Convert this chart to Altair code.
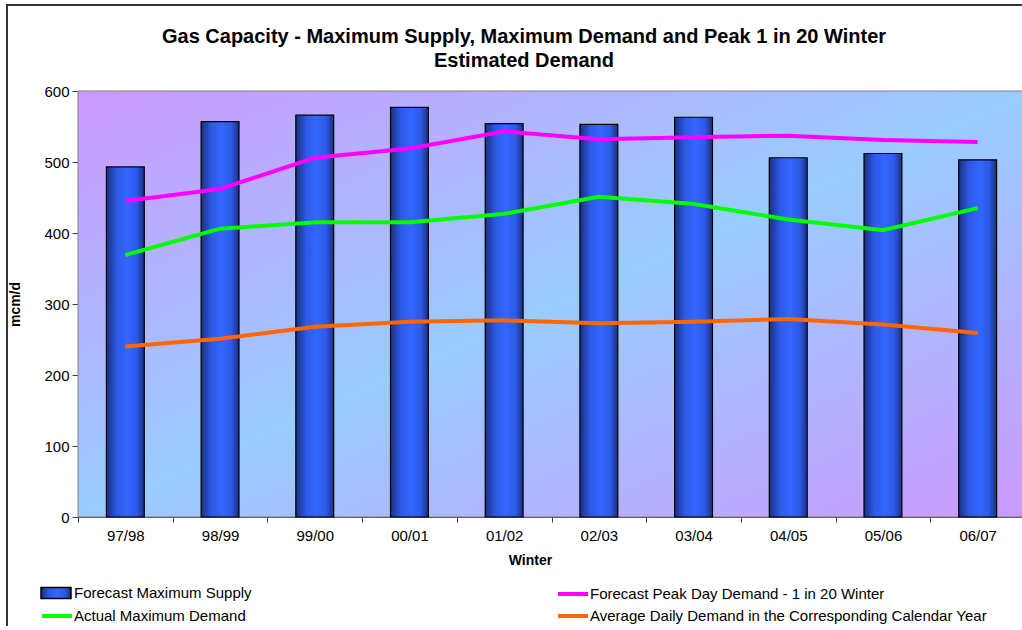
import altair as alt
import pandas as pd

# ---- data ----
winters = ["97/98", "98/99", "99/00", "00/01", "01/02", "02/03", "03/04", "04/05", "05/06", "06/07"]
max_supply = [493, 557, 566, 577, 554, 553, 563, 506, 512, 503]
peak_1in20 = [445, 462, 506, 519, 543, 532, 535, 537, 531, 528]
actual_max = [369, 406, 415, 415, 427, 451, 441, 419, 404, 435]
avg_daily = [240, 251, 268, 275, 277, 273, 275, 279, 271, 259]

S_SUPPLY = "Forecast Maximum Supply"
S_PEAK = "Forecast Peak Day Demand - 1 in 20 Winter"
S_ACTUAL = "Actual Maximum Demand"
S_AVG = "Average Daily Demand in the Corresponding Calendar Year"

supply_df = pd.DataFrame({"Winter": winters, "value": max_supply, "series": S_SUPPLY})
peak_df = pd.DataFrame({"Winter": winters, "value": peak_1in20, "series": S_PEAK})
actual_df = pd.DataFrame({"Winter": winters, "value": actual_max, "series": S_ACTUAL})
avg_df = pd.DataFrame({"Winter": winters, "value": avg_daily, "series": S_AVG})

FONT = "Liberation Sans"
W, H = 944, 426
XRANGE = 947

x_axis = alt.Axis(labelAngle=0, tickBand="extent", tickSize=5, tickColor="#404040",
                  domainColor="#404040", labelFontSize=15, labelColor="black", labelPadding=6,
                  titleFontSize=14, titleFontWeight="bold", titleColor="black",
                  titleX=452, titleY=36)
y_axis = alt.Axis(values=[0, 100, 200, 300, 400, 500, 600], grid=False, domainColor="#000000",
                  tickColor="#404040", tickSize=6, labelFontSize=15, labelColor="black",
                  labelPadding=3, titleFontSize=14, titleFontWeight="bold", titleColor="black",
                  titleX=-63, titleY=H / 2, titleBaseline="middle")

x_enc = alt.X("Winter:N", sort=winters, title="Winter",
              scale=alt.Scale(domain=winters, range=[0, XRANGE], paddingInner=0, paddingOuter=0),
              axis=x_axis)
y_enc = alt.Y("value:Q", title="mcm/d", scale=alt.Scale(domain=[0, 600], nice=False), axis=y_axis)

bg_gradient = alt.LinearGradient(gradient="linear", x1=0, y1=0, x2=1, y2=1,
                                 stops=[alt.GradientStop(color="#CC99FF", offset=0),
                                        alt.GradientStop(color="#99CCFF", offset=0.5),
                                        alt.GradientStop(color="#CC99FF", offset=1)])
bar_gradient = alt.LinearGradient(gradient="linear", x1=0, y1=0, x2=1, y2=0,
                                  stops=[alt.GradientStop(color="#1A3080", offset=0),
                                         alt.GradientStop(color="#2D5AE6", offset=0.28),
                                         alt.GradientStop(color="#3366FF", offset=0.55),
                                         alt.GradientStop(color="#2D5AE6", offset=0.8),
                                         alt.GradientStop(color="#1A3080", offset=1)])

one = pd.DataFrame({"k": [0]})

border = alt.Chart(one).mark_rect(fillOpacity=0, stroke="#333333", strokeWidth=2).encode(
    x=alt.value(-71), x2=alt.value(W + 40), y=alt.value(-86), y2=alt.value(H + 200))

bg = alt.Chart(one).mark_rect(fill=bg_gradient, stroke="#808080", strokeWidth=1).encode(
    x=alt.value(0), x2=alt.value(XRANGE + 10), y=alt.value(0), y2=alt.value("height"))

legend_common = dict(orient="none", labelFont=FONT, labelFontSize=15, labelColor="black",
                     labelLimit=700, padding=0)
line_legend = dict(symbolType="stroke", symbolSize=900, labelOffset=0, **legend_common)

bars = alt.Chart(supply_df).mark_bar(color=bar_gradient, strokeWidth=1.2,
                                     width=alt.RelativeBandSize(0.4)).encode(
    x=x_enc, y=y_enc,
    stroke=alt.Stroke("series:N", title=None,
                      scale=alt.Scale(domain=[S_SUPPLY], range=["#000000"]),
                      legend=alt.Legend(legendX=-38, legendY=486, labelOffset=2,
                                        symbolType="M-1,-0.36H1V0.36H-1Z", symbolSize=900,
                                        symbolFillColor="#3366FF", symbolStrokeWidth=1.5,
                                        **legend_common)))

peak_line = alt.Chart(peak_df).mark_line(strokeWidth=4).encode(
    x=x_enc, y=y_enc,
    color=alt.Color("series:N", title=None,
                    scale=alt.Scale(domain=[S_PEAK], range=["#FF00FF"]),
                    legend=alt.Legend(legendX=478, legendY=486, symbolStrokeWidth=4,
                                      **line_legend)))

avg_line = alt.Chart(avg_df).mark_line(color="#FF6600").encode(
    x=x_enc, y=y_enc,
    strokeWidth=alt.StrokeWidth("series:N", title=None,
                                scale=alt.Scale(domain=[S_AVG], range=[4, 4]),
                                legend=alt.Legend(legendX=478, legendY=508,
                                                  symbolStrokeColor="#FF6600",
                                                  **line_legend)))

actual_line = alt.Chart(actual_df).mark_line(strokeWidth=4, color="#00FF00").encode(
    x=x_enc, y=y_enc,
    strokeDash=alt.StrokeDash("series:N", title=None,
                              scale=alt.Scale(domain=[S_ACTUAL], range=[[1, 0]]),
                              legend=alt.Legend(legendX=-38, legendY=508, symbolStrokeWidth=4,
                                                symbolStrokeColor="#00FF00", **line_legend)))

chart = alt.layer(border, bg, bars, peak_line, actual_line, avg_line).resolve_legend(
    color="independent", stroke="independent", strokeDash="independent",
    strokeWidth="independent"
).properties(
    width=W, height=H,
    padding={"left": 78, "top": 91, "right": 0, "bottom": 109},
    autosize=alt.AutoSizeParams(type="none"),
    title=alt.TitleParams(
        text=["Gas Capacity - Maximum Supply, Maximum Demand and Peak 1 in 20 Winter",
              "Estimated Demand"],
        font=FONT, fontSize=20, fontWeight="bold", color="black", anchor="middle",
        dx=-26, dy=67, offset=0, lineHeight=24),
    background="white",
).configure(font=FONT).configure_view(strokeWidth=0)

chart.save("out.html", embed_options={"renderer": "svg", "actions": False})
